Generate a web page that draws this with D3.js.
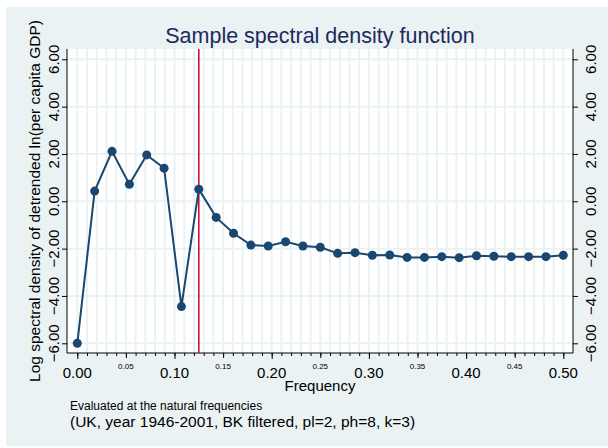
<!DOCTYPE html>
<html>
<head>
<meta charset="utf-8">
<script src="https://cdn.jsdelivr.net/npm/d3@7"></script>
<style>
  body { margin: 0; background: #fff; }
  text { font-family: "Liberation Sans", Arial, sans-serif; }
</style>
</head>
<body>
<svg width="608" height="448"></svg>
<script>
// natural frequencies j/56, j = 0..28
var freqs = [0, 0.01786, 0.03571, 0.05357, 0.07143, 0.08929, 0.10714, 0.125, 0.14286,
  0.16071, 0.17857, 0.19643, 0.21429, 0.23214, 0.25, 0.26786, 0.28571, 0.30357,
  0.32143, 0.33929, 0.35714, 0.375, 0.39286, 0.41071, 0.42857, 0.44643, 0.46429,
  0.48214, 0.5];
var logDensity = [-6.0, 0.43, 2.11, 0.72, 1.96, 1.40, -4.45, 0.51, -0.68, -1.35,
  -1.85, -1.89, -1.71, -1.89, -1.94, -2.20, -2.17, -2.28, -2.27, -2.37, -2.37,
  -2.34, -2.38, -2.30, -2.32, -2.34, -2.34, -2.34, -2.28];
var cutoff = 0.125; // 1/ph
var yTicks = [-6, -4, -2, 0, 2, 4, 6];
var xMajor = [0, 0.1, 0.2, 0.3, 0.4, 0.5];
var xMid = [0.05, 0.15, 0.25, 0.35, 0.45];
var xMinor = d3.range(0, 51).map(function(i) { return i / 100; });

var svg = d3.select("svg");
var plot = {left: 67, right: 573, top: 49, bottom: 353};

var x = d3.scaleLinear().domain([0, 0.5]).range([77.3, 563.3]);
var y = d3.scaleLinear().domain([-6, 6]).range([343.3, 59.3]);

svg.append("rect").attr("x", 6).attr("y", 7).attr("width", 602).attr("height", 439)
  .attr("fill", "#eaf2f3");
svg.append("rect").attr("x", plot.left).attr("y", plot.top)
  .attr("width", plot.right - plot.left).attr("height", plot.bottom - plot.top)
  .attr("fill", "#fff");

// grid
var grid = svg.append("g").attr("stroke", "#eaf2f3").attr("stroke-width", 2);
grid.selectAll(".vg").data(xMinor).enter().append("line")
  .attr("x1", function(d) { return x(d); }).attr("x2", function(d) { return x(d); })
  .attr("y1", plot.top).attr("y2", plot.bottom);
grid.selectAll(".hg").data(yTicks).enter().append("line")
  .attr("x1", plot.left).attr("x2", plot.right)
  .attr("y1", function(d) { return y(d); }).attr("y2", function(d) { return y(d); });

// axes
var fmt = d3.format(".2f");
svg.append("g").attr("transform", "translate(" + plot.left + ",0)")
  .call(d3.axisLeft(y).tickValues(yTicks).tickSize(5).tickFormat(""))
  .call(function(g) { g.select(".domain").attr("d", "M0," + plot.top + "V" + plot.bottom); });
svg.append("g").attr("transform", "translate(" + plot.right + ",0)")
  .call(d3.axisRight(y).tickValues(yTicks).tickSize(5).tickFormat(""))
  .call(function(g) { g.select(".domain").attr("d", "M0," + plot.top + "V" + plot.bottom); });

var xAxisG = svg.append("g").attr("transform", "translate(0," + plot.bottom + ")");
xAxisG.call(d3.axisBottom(x).tickValues(xMinor).tickSize(3).tickFormat(""))
  .call(function(g) { g.select(".domain").attr("d", "M" + plot.left + ",0H" + plot.right); });
xAxisG.append("g").call(d3.axisBottom(x).tickValues(xMid).tickSize(5).tickFormat(""))
  .select(".domain").remove();
xAxisG.append("g").call(d3.axisBottom(x).tickValues(xMajor).tickSize(6).tickFormat(""))
  .select(".domain").remove();

// tick labels (both sides read bottom to top)
svg.selectAll(".yl").data(yTicks).enter().append("text")
  .attr("transform", function(d) { return "translate(58.5," + y(d) + ") rotate(-90)"; })
  .attr("text-anchor", "middle").attr("font-size", 15).attr("fill", "#000")
  .text(fmt);
svg.selectAll(".yr").data(yTicks).enter().append("text")
  .attr("transform", function(d) { return "translate(595.5," + y(d) + ") rotate(-90)"; })
  .attr("text-anchor", "middle").attr("font-size", 15).attr("fill", "#000")
  .text(fmt);
svg.selectAll(".xl").data(xMajor).enter().append("text")
  .attr("x", function(d) { return x(d); }).attr("y", 378)
  .attr("text-anchor", "middle").attr("font-size", 15).text(fmt);
svg.selectAll(".xm").data(xMid).enter().append("text")
  .attr("x", function(d) { return x(d); }).attr("y", 369)
  .attr("text-anchor", "middle").attr("font-size", 8).text(fmt);

// cutoff line
svg.append("line").attr("x1", x(cutoff)).attr("x2", x(cutoff))
  .attr("y1", plot.top).attr("y2", plot.bottom)
  .attr("stroke", "#d0103a").attr("stroke-width", 1.6);

// series
var pts = freqs.map(function(f, i) { return {f: f, v: logDensity[i]}; });
var line = d3.line().x(function(d) { return x(d.f); }).y(function(d) { return y(d.v); });
svg.append("path").datum(pts).attr("d", line)
  .attr("fill", "none").attr("stroke", "#1a476f").attr("stroke-width", 2);
svg.selectAll(".pt").data(pts).enter().append("circle")
  .attr("cx", function(d) { return x(d.f); }).attr("cy", function(d) { return y(d.v); })
  .attr("r", 4.5).attr("fill", "#1a476f");

// titles
svg.append("text").attr("x", 320).attr("y", 43).attr("text-anchor", "middle")
  .attr("font-size", 21.5).attr("fill", "#1c2a5c").text("Sample spectral density function");
svg.append("text").attr("transform", "translate(39.5,201) rotate(-90)")
  .attr("text-anchor", "middle").attr("font-size", 15.5)
  .text("Log spectral density of detrended ln(per capita GDP)");
svg.append("text").attr("x", 320).attr("y", 391).attr("text-anchor", "middle")
  .attr("font-size", 15).text("Frequency");
svg.append("text").attr("x", 70).attr("y", 410).attr("font-size", 12)
  .text("Evaluated at the natural frequencies");
svg.append("text").attr("x", 70).attr("y", 427).attr("font-size", 15.5)
  .text("(UK, year 1946-2001, BK filtered, pl=2, ph=8, k=3)");
</script>
</body>
</html>
